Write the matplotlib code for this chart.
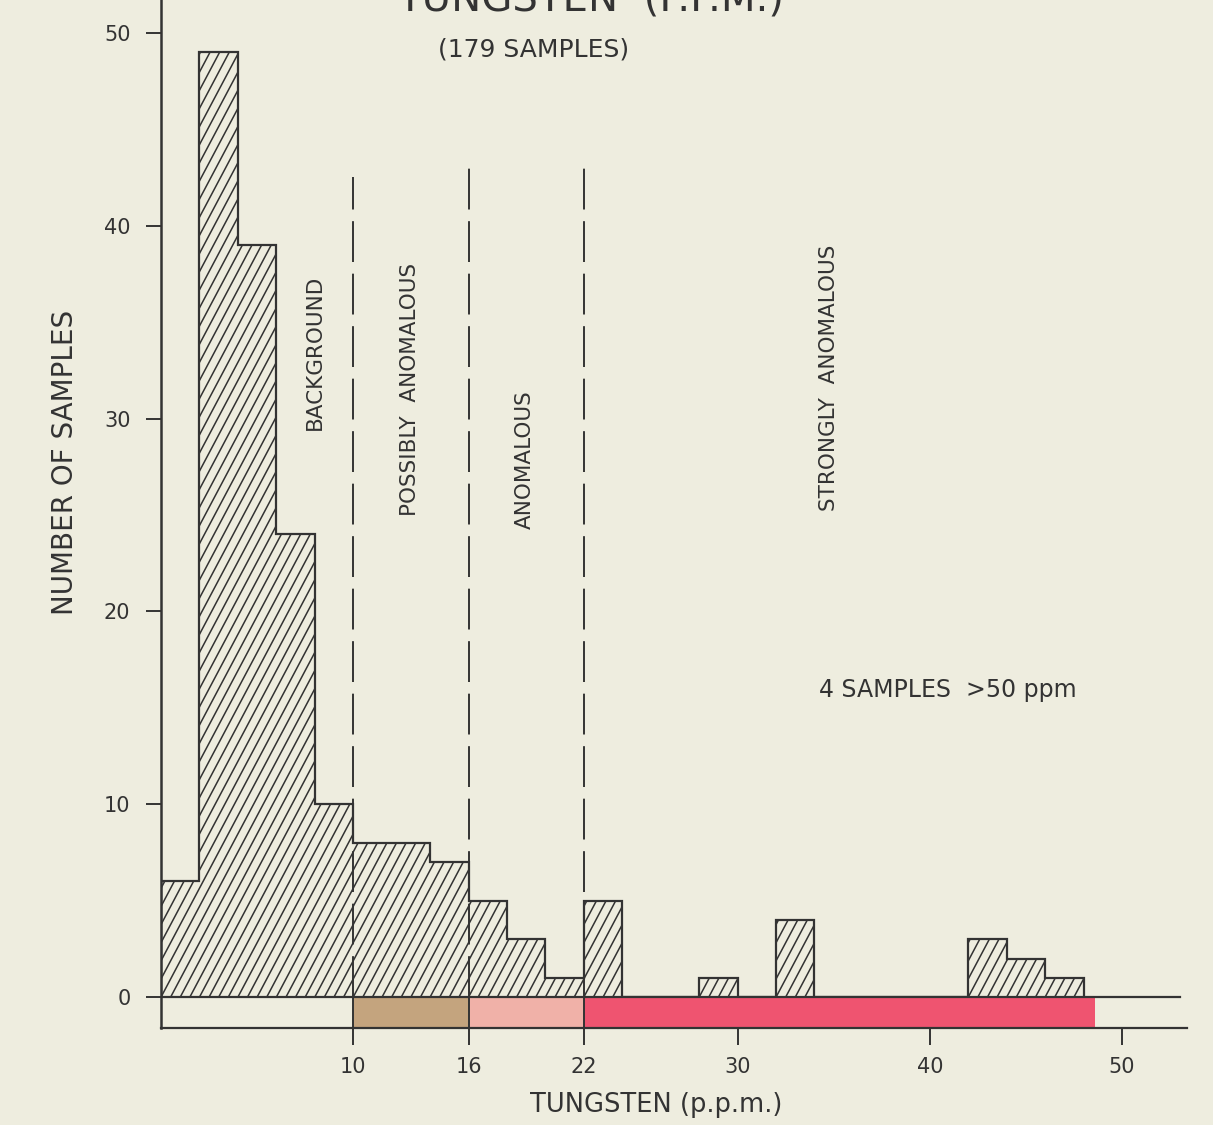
import numpy as np
import matplotlib
matplotlib.use('Agg')
import matplotlib.pyplot as plt
from matplotlib.collections import LineCollection

# データ
bin_edges = list(range(0, 50, 2))
counts = [6, 49, 39, 24, 10, 8, 8, 7, 5, 3, 1, 5, 0, 0, 1, 0, 4, 0, 0, 0, 0, 3, 2, 1]
zone_bounds = [10, 16, 22]
zone_tops = [42.5, 43.4, 43.0]
strip_edges = [10, 16, 22, 48.6]
strip_colors = ['#c4a47e', '#f0b1a8', '#ef5470']
xticks = [10, 16, 22, 30, 40, 50]
yticks = [0, 10, 20, 30, 40, 50]

bg = '#eeeddf'
ink = '#333333'

plt.rcParams['font.family'] = ['DejaVu Sans']

fig = plt.figure(figsize=(12.13, 11.25), dpi=100, facecolor=bg)
ax = fig.add_axes([161 / 1213, 1 - 1028 / 1125, 1 - 161 / 1213, 1028 / 1125])
ax.set_facecolor(bg)
ax.set_xlim(0, (1213 - 161) / 19.22)
ax.set_ylim(-1.6, 51.7)

# ヒストグラム (斜線は手描き風に急角度)
edges = np.array(bin_edges)
clip = ax.stairs(counts, edges, fill=True, facecolor='none',
                 edgecolor='none', baseline=0)
slope = np.tan(np.radians(62))
offs = np.arange(-30, 50, 0.5)
segs = [[(c, 0), (c + 52 / slope, 52)] for c in offs]
hatch = LineCollection(segs, colors=ink, linewidths=1.1)
ax.add_collection(hatch)
hatch.set_clip_path(clip)
ax.stairs(counts, edges, color=ink, linewidth=1.6, baseline=0)

# 下の色帯
for left, right, c in zip(strip_edges[:-1], strip_edges[1:], strip_colors):
    ax.bar(left, 1.6, width=right - left, bottom=-1.6, align='edge',
           color=c, linewidth=0)
ax.vlines(zone_bounds, -1.6, 0, color=ink, linewidth=1.4)

# 区分線
for x, top in zip(zone_bounds, zone_tops):
    ax.plot([x, x], [0, top], color=ink, linewidth=1.4,
            linestyle=(0, (21, 6)))

ax.plot([0, 53.0], [0, 0], color=ink, linewidth=1.6)

# 軸
for s in ['top', 'right']:
    ax.spines[s].set_visible(False)
ax.spines['left'].set_color(ink)
ax.spines['left'].set_linewidth(1.8)
ax.spines['bottom'].set_color(ink)
ax.spines['bottom'].set_linewidth(1.6)
ax.spines['bottom'].set_bounds(0, 53.4)

ax.set_xticks(xticks)
ax.set_yticks(yticks)
ax.tick_params(axis='x', direction='out', length=12, width=1.4, pad=9,
               labelsize=15, colors=ink)
ax.tick_params(axis='y', direction='out', length=11, width=1.4, pad=11,
               labelsize=15, colors=ink)

# テキスト
fig.text(591 / 1213, 1 - 10 / 1125, 'TUNGSTEN  (P.P.M.)', ha='center',
         va='baseline', fontsize=29, color=ink)
fig.text(534 / 1213, 1 - 50 / 1125, '(179 SAMPLES)', ha='center',
         va='center', fontsize=18, color=ink)
fig.text(65 / 1213, 1 - 462 / 1125, 'NUMBER OF SAMPLES', rotation=90,
         ha='center', va='center', fontsize=20, color=ink)
fig.text(656 / 1213, 1 - 1105 / 1125, 'TUNGSTEN (p.p.m.)', ha='center',
         va='center', fontsize=18.5, color=ink)

labels = [('BACKGROUND', 315, 352), ('POSSIBLY  ANOMALOUS', 410, 389),
          ('ANOMALOUS', 525, 460), ('STRONGLY  ANOMALOUS', 829, 378)]
for txt, px, py in labels:
    fig.text(px / 1213, 1 - py / 1125, txt, rotation=90, ha='center',
             va='center', fontsize=15.5, color=ink)

fig.text(948 / 1213, 1 - 690 / 1125, '4 SAMPLES  >50 ppm', ha='center',
         va='center', fontsize=17, color=ink)

fig.savefig('out.png', dpi=100, facecolor=bg)
